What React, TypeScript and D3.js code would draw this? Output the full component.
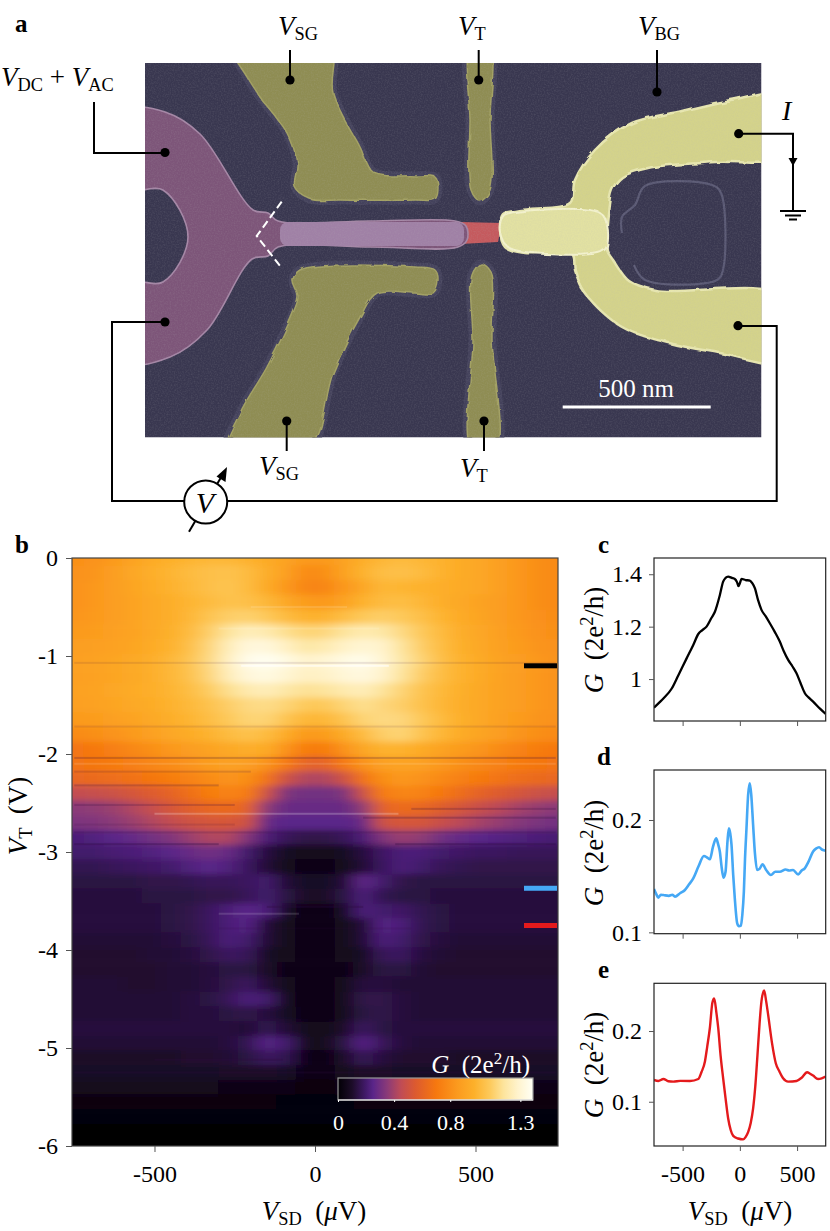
import React, { useEffect, useRef } from 'react';
import * as d3 from 'd3';

// Conductance map, G x 100 (2e2/h), rows are VT, columns are VSD
const vsdCols = [-750, -690, -630, -570, -510, -450, -390, -330, -270, -210, -150, -90, -30, 30, 90, 150, 210, 270, 330, 390, 450, 510, 570, 630, 690, 750];
const vtRows = [0, -0.15, -0.3, -0.45, -0.6, -0.75, -0.9, -1.05, -1.2, -1.35, -1.5, -1.65, -1.8, -1.95, -2.1, -2.25, -2.4, -2.55, -2.7, -2.85, -3, -3.15, -3.3, -3.45, -3.6, -3.75, -3.9, -4.05, -4.2, -4.35, -4.5, -4.65, -4.8, -4.95, -5.1, -5.25, -5.4, -5.55, -5.7, -5.85, -6];
const gMap = [
  [80, 82, 85, 90, 94, 97, 99, 100, 100, 98, 94, 90, 85, 85, 90, 96, 100, 102, 100, 98, 95, 92, 88, 84, 80, 78],
  [81, 83, 87, 92, 96, 99, 102, 104, 105, 102, 96, 88, 78, 80, 90, 98, 103, 104, 102, 98, 95, 92, 88, 84, 80, 78],
  [82, 84, 87, 91, 95, 98, 101, 104, 106, 102, 94, 84, 76, 76, 84, 92, 100, 99, 98, 96, 94, 92, 88, 84, 80, 78],
  [82, 84, 87, 90, 93, 96, 99, 102, 105, 104, 100, 92, 86, 84, 90, 98, 102, 103, 100, 96, 93, 90, 87, 84, 80, 78],
  [83, 85, 87, 90, 93, 96, 100, 106, 110, 111, 108, 102, 98, 98, 103, 108, 110, 108, 104, 99, 94, 91, 87, 84, 81, 79],
  [85, 86, 88, 90, 93, 97, 102, 110, 118, 124, 122, 116, 112, 113, 118, 122, 120, 114, 108, 102, 96, 92, 88, 85, 82, 80],
  [87, 88, 89, 91, 94, 98, 104, 113, 124, 132, 132, 126, 120, 122, 127, 130, 128, 118, 110, 103, 97, 93, 89, 86, 83, 81],
  [88, 89, 91, 93, 96, 100, 106, 114, 126, 136, 138, 134, 128, 130, 134, 136, 130, 120, 112, 104, 98, 94, 90, 87, 84, 82],
  [88, 89, 91, 93, 96, 100, 105, 113, 124, 132, 134, 130, 126, 127, 131, 133, 128, 118, 110, 103, 98, 94, 90, 87, 84, 82],
  [89, 90, 92, 94, 96, 99, 103, 109, 116, 122, 124, 120, 117, 118, 122, 124, 118, 112, 106, 101, 97, 93, 90, 87, 84, 82],
  [88, 89, 91, 93, 95, 98, 101, 105, 110, 114, 115, 112, 108, 108, 112, 116, 113, 110, 105, 100, 96, 93, 90, 87, 84, 82],
  [85, 86, 88, 90, 93, 96, 99, 103, 108, 112, 112, 106, 100, 100, 106, 112, 114, 113, 108, 102, 97, 93, 89, 86, 83, 81],
  [78, 80, 82, 85, 88, 92, 95, 98, 102, 105, 102, 94, 85, 86, 94, 102, 110, 112, 106, 100, 95, 91, 87, 83, 80, 78],
  [68, 70, 73, 77, 80, 84, 87, 90, 93, 96, 94, 82, 72, 72, 82, 92, 98, 98, 94, 90, 86, 83, 79, 75, 72, 70],
  [68, 69, 71, 73, 76, 79, 82, 86, 88, 87, 82, 70, 60, 60, 70, 82, 88, 90, 88, 84, 80, 77, 74, 71, 69, 68],
  [62, 63, 65, 67, 69, 72, 75, 79, 82, 80, 68, 50, 42, 42, 50, 68, 80, 84, 82, 78, 74, 71, 68, 65, 63, 62],
  [46, 47, 49, 52, 56, 60, 66, 72, 75, 72, 50, 32, 30, 30, 32, 50, 72, 76, 75, 70, 65, 60, 56, 52, 49, 47],
  [35, 36, 38, 42, 47, 53, 58, 62, 63, 60, 35, 28, 28, 28, 28, 36, 60, 64, 62, 57, 52, 48, 44, 40, 37, 35],
  [32, 33, 35, 38, 42, 46, 50, 52, 53, 50, 27, 25, 25, 25, 25, 28, 50, 53, 52, 48, 44, 40, 37, 34, 32, 30],
  [22, 23, 25, 27, 30, 33, 38, 42, 42, 33, 22, 17, 15, 15, 17, 22, 33, 38, 36, 30, 27, 25, 24, 23, 22, 21],
  [20, 20, 21, 22, 23, 25, 28, 30, 28, 20, 13, 8, 6, 6, 8, 13, 19, 22, 22, 20, 19, 18, 18, 17, 17, 17],
  [16, 16, 17, 18, 19, 20, 23, 25, 23, 18, 12, 7, 5, 5, 7, 12, 18, 22, 20, 17, 16, 15, 15, 15, 15, 15],
  [14, 14, 14, 14, 15, 15, 16, 17, 17, 18, 20, 12, 9, 9, 12, 26, 20, 15, 14, 14, 14, 14, 14, 14, 14, 14],
  [13, 13, 13, 13, 14, 14, 14, 15, 15, 17, 20, 14, 10, 10, 14, 22, 16, 14, 14, 13, 13, 13, 13, 13, 13, 13],
  [13, 13, 13, 13, 13, 14, 15, 18, 22, 25, 22, 8, 5, 5, 8, 22, 20, 19, 16, 14, 13, 13, 13, 13, 13, 13],
  [13, 13, 13, 13, 13, 14, 15, 18, 22, 24, 12, 6, 5, 5, 6, 12, 24, 22, 16, 14, 13, 13, 13, 13, 13, 13],
  [12, 12, 12, 12, 12, 13, 14, 17, 22, 20, 12, 6, 5, 5, 6, 12, 22, 20, 15, 13, 12, 12, 12, 12, 12, 12],
  [11, 11, 11, 11, 12, 12, 13, 15, 18, 17, 8, 6, 5, 5, 6, 8, 17, 18, 13, 12, 11, 11, 11, 11, 11, 11],
  [11, 11, 11, 11, 11, 12, 12, 13, 14, 14, 10, 5, 4, 4, 5, 10, 14, 14, 12, 11, 11, 11, 11, 11, 11, 11],
  [12, 12, 12, 11, 11, 12, 12, 13, 15, 18, 12, 6, 5, 5, 6, 13, 13, 12, 12, 12, 12, 12, 12, 12, 12, 12],
  [12, 12, 12, 12, 12, 12, 13, 14, 17, 22, 20, 6, 5, 5, 6, 15, 15, 13, 12, 12, 12, 12, 12, 12, 12, 12],
  [12, 12, 12, 12, 12, 12, 13, 13, 14, 15, 13, 8, 5, 5, 7, 14, 15, 13, 12, 12, 12, 12, 12, 12, 12, 12],
  [13, 13, 13, 13, 13, 13, 13, 13, 13, 12, 16, 12, 6, 6, 10, 18, 14, 13, 13, 13, 13, 13, 13, 13, 13, 13],
  [12, 12, 12, 12, 12, 12, 12, 12, 13, 16, 24, 20, 6, 6, 14, 24, 17, 13, 12, 12, 12, 12, 12, 12, 12, 12],
  [10, 10, 10, 10, 10, 10, 11, 11, 12, 14, 18, 16, 5, 5, 10, 17, 13, 11, 11, 11, 10, 10, 10, 10, 10, 10],
  [9, 9, 9, 9, 9, 9, 9, 9, 10, 10, 10, 9, 4, 4, 7, 10, 10, 9, 9, 9, 9, 9, 9, 9, 9, 9],
  [7, 7, 7, 6, 6, 6, 6, 6, 5, 5, 5, 4, 2, 2, 4, 5, 5, 5, 5, 5, 5, 5, 5, 5, 5, 5],
  [3, 3, 3, 2, 2, 2, 2, 2, 2, 2, 2, 1, 1, 1, 1, 2, 2, 2, 2, 2, 2, 2, 2, 2, 2, 2],
  [1, 1, 1, 1, 1, 1, 1, 1, 1, 1, 1, 1, 1, 1, 1, 1, 1, 1, 1, 1, 1, 1, 1, 1, 1, 1],
  [0, 0, 0, 0, 0, 0, 0, 0, 0, 0, 0, 0, 0, 0, 0, 0, 0, 0, 0, 0, 0, 0, 0, 0, 0, 0],
  [0, 0, 0, 0, 0, 0, 0, 0, 0, 0, 0, 0, 0, 0, 0, 0, 0, 0, 0, 0, 0, 0, 0, 0, 0, 0],
];

// thin scan-line streaks on the map: VT, VSD from, VSD to, strength (+ light, - dark)
const streaks: [number, number, number, number][] = [
  [-1.1, -230, 230, 0.6], [-1.07, -750, 750, -0.1], [-0.72, -300, 200, 0.12], [-0.5, -200, 100, 0.12],
  [-1.72, -750, 750, -0.1], [-2.04, -750, 750, -0.22], [-2.1, -750, 750, 0.12], [-2.18, -750, -200, -0.15],
  [-2.32, -750, -300, -0.2], [-2.52, -750, -250, -0.2], [-2.56, 300, 750, -0.22], [-2.61, -500, 260, 0.22],
  [-2.65, 150, 750, -0.25], [-2.72, -750, -250, -0.12], [-2.8, -750, 750, -0.18], [-2.92, -750, -300, -0.3],
  [-2.92, 250, 750, -0.3], [-3.56, -150, 150, -0.3], [-3.63, -300, -50, 0.14], [-3.78, -300, 300, -0.12],
  [-5.12, -500, -100, -0.3], [-5.25, -750, 750, -0.25],
];

// colour map stops
const gStops = [0, 0.1, 0.2, 0.25, 0.35, 0.45, 0.55, 0.7, 0.85, 0.97, 1.08, 1.18, 1.28, 1.39];
const gColors = ['#020005', '#1c0c28', '#431a6c', '#5a2589', '#8a3a78', '#c04c55', '#dc5a30', '#f6780f', '#fb9a1e', '#fdb02a', '#fdc95a', '#fde49c', '#fff3cc', '#fffff5'];
const barTicks = [0, 0.4, 0.8, 1.3];

// cuts marked on the map
const cutVT = [-1.1, -3.37, -3.75];
const cutColors = ['#000000', '#45a8f5', '#e41a1c'];

// line cuts, [VSD, G]
const cutC: [number, number][] = [
  [-750, 0.891], [-700, 0.912], [-668, 0.926], [-595, 0.964], [-537, 1.015], [-465, 1.079], [-407, 1.13], [-363, 1.172], [-330, 1.186], [-291, 1.2], [-250, 1.232], [-218, 1.257], [-175, 1.32], [-146, 1.372], [-125, 1.386], [-102, 1.391], [-70, 1.386], [-44, 1.382], [-25, 1.37], [-12, 1.355], [0, 1.366], [15, 1.382], [50, 1.378], [87, 1.376], [110, 1.365], [131, 1.347], [160, 1.3], [189, 1.264], [225, 1.24], [262, 1.213], [305, 1.18], [349, 1.143], [385, 1.105], [422, 1.073], [460, 1.048], [495, 1.022], [530, 0.985], [568, 0.946], [600, 0.93], [640, 0.914], [700, 0.887], [750, 0.867],
];
const cutD: [number, number][] = [
  [-750, 0.1386], [-730, 0.134], [-712, 0.1309], [-690, 0.1335], [-668, 0.1332], [-620, 0.1325], [-590, 0.1335], [-567, 0.1317], [-520, 0.135], [-480, 0.1377], [-445, 0.1425], [-407, 0.148], [-360, 0.159], [-314, 0.168], [-285, 0.1665], [-262, 0.165], [-235, 0.176], [-207, 0.1837], [-190, 0.1785], [-175, 0.172], [-158, 0.157], [-143, 0.1487], [-125, 0.154], [-108, 0.181], [-96, 0.1926], [-84, 0.188], [-73, 0.178], [-58, 0.151], [-44, 0.13], [-23, 0.108], [-8, 0.1055], [9, 0.106], [22, 0.116], [35, 0.136], [45, 0.165], [58, 0.1926], [72, 0.222], [87, 0.2327], [100, 0.222], [116, 0.1955], [132, 0.17], [151, 0.1555], [172, 0.1565], [198, 0.1605], [230, 0.1555], [271, 0.151], [310, 0.154], [349, 0.154], [400, 0.156], [430, 0.155], [465, 0.1555], [509, 0.1516], [540, 0.155], [567, 0.157], [600, 0.163], [640, 0.172], [665, 0.1745], [692, 0.1757], [720, 0.1735], [750, 0.1727],
];
const cutE: [number, number][] = [
  [-750, 0.1308], [-712, 0.1294], [-668, 0.1322], [-625, 0.129], [-581, 0.1285], [-520, 0.1295], [-436, 0.1294], [-363, 0.1322], [-335, 0.142], [-305, 0.157], [-285, 0.178], [-262, 0.2043], [-240, 0.24], [-224, 0.246], [-205, 0.226], [-189, 0.2043], [-168, 0.165], [-146, 0.1332], [-125, 0.105], [-102, 0.0763], [-80, 0.06], [-58, 0.0517], [-15, 0.048], [29, 0.0468], [50, 0.05], [73, 0.0573], [95, 0.07], [116, 0.0905], [135, 0.122], [154, 0.1663], [172, 0.21], [189, 0.2422], [212, 0.2573], [230, 0.242], [247, 0.2232], [280, 0.184], [314, 0.1545], [345, 0.143], [378, 0.1332], [422, 0.1285], [495, 0.1294], [540, 0.134], [588, 0.1417], [610, 0.14], [640, 0.137], [683, 0.1322], [715, 0.133], [750, 0.1355],
];
const panelInfo = [
  { name: 'c', data: cutC, color: '#000000', domain: [0.84, 1.462], ticks: [1, 1.2, 1.4], labels: ['1', '1.2', '1.4'], top: 558, bottom: 721, width: 2.3, labelY: 640 },
  { name: 'd', data: cutD, color: '#45a8f5', domain: [0.0988, 0.2445], ticks: [0.1, 0.2], labels: ['0.1', '0.2'], top: 770, bottom: 933.7, width: 2.6, labelY: 853 },
  { name: 'e', data: cutE, color: '#e41a1c', domain: [0.0374, 0.2675], ticks: [0.1, 0.2], labels: ['0.1', '0.2'], top: 983.3, bottom: 1146, width: 2.4, labelY: 1065 },
];

// false colour SEM outlines (page pixels)
const purpleLead = [[125, 110], [165, 112], [200, 134], [253, 210], [268, 213], [278, 221], [370, 221], [455, 221], [466, 226], [467, 240], [458, 247], [370, 247], [278, 247], [268, 256], [252, 259], [207, 330], [170, 357], [125, 362], [125, 283], [163, 282], [188, 237], [163, 190], [125, 189]];
const redPiece = [[460, 222], [502, 223], [498, 242], [460, 244]];
const sideGateTop = [[232, 45], [330, 45], [333, 93], [360, 147], [373, 172], [415, 176], [435, 177], [438, 188], [435, 199], [415, 200], [340, 200], [310, 199], [295, 187], [297, 163], [287, 133], [260, 97], [247, 77]];
const sideGateBottom = [[293, 280], [300, 270], [415, 267], [435, 270], [438, 280], [433, 293], [415, 293], [377, 293], [360, 317], [333, 373], [308, 450], [228, 450], [240, 413], [267, 367], [293, 313], [298, 297]];
const topGateTop = [[470, 45], [489, 45], [490, 120], [490, 190], [480, 201], [471, 190], [470, 120]];
const topGateBottom = [[472, 275], [481, 264], [491, 272], [492, 340], [496, 450], [472, 450], [473, 340]];
const contact = [[785, 95], [731, 100], [682, 111], [632, 123], [595, 150], [575, 180], [570, 203], [530, 209], [515, 211], [503, 214], [500, 230], [505, 247], [525, 253], [572, 254], [575, 270], [585, 293], [622, 327], [665, 342], [715, 352], [785, 360], [785, 297], [655, 290], [628, 280], [613, 260], [607, 250], [608, 213], [612, 190], [622, 177], [648, 168], [715, 162], [785, 156]];
const contactBlob = [[503, 216], [515, 212], [600, 213], [607, 225], [606, 248], [598, 253], [525, 252], [508, 247], [500, 232]];
const loopTrace = [[622, 233], [622, 217], [635, 205], [645, 186], [712, 185], [721, 193], [723, 270], [717, 280], [645, 280], [634, 265]];

const serif = "'Liberation Serif', 'DejaVu Serif', serif";

type Part = [string, 'i' | 'r' | 'sub' | 'sup' | 'b'];

// math style text with sub and superscripts
function mathText(parent: any, x: number, y: number, parts: Part[], size: number, anchor = 'start', fill = '#000') {
  const t = parent.append('text').attr('x', x).attr('y', y).attr('font-family', serif)
    .attr('font-size', size).attr('text-anchor', anchor).attr('fill', fill);
  let shift = 0;
  parts.forEach(([s, k]) => {
    const want = k === 'sub' ? size * 0.2 : k === 'sup' ? -size * 0.36 : 0;
    t.append('tspan')
      .attr('dy', want - shift)
      .attr('font-size', k === 'sub' || k === 'sup' ? size * 0.68 : size)
      .attr('font-style', k === 'i' ? 'italic' : 'normal')
      .attr('font-weight', k === 'b' ? 'bold' : 'normal')
      .attr('xml:space', 'preserve')
      .text(s);
    shift = want;
  });
  return t;
}

const gLabel: Part[] = [['G', 'i'], ['\u00a0\u00a0(2e', 'r'], ['2', 'sup'], ['/h)', 'r']];
const vsdLabel: Part[] = [['V', 'i'], ['SD', 'sub'], ['\u00a0\u00a0(', 'r'], ['\u03bc', 'i'], ['V)', 'r']];

const App: React.FC = () => {
  const svgRef = useRef<SVGSVGElement>(null);

  useEffect(() => {
    if (!svgRef.current) return;
    const svg = d3.select(svgRef.current);
    svg.selectAll('*').remove();
    const defs = svg.append('defs');

    // ---- panel a, SEM picture ----
    const img = { x: 145, y: 63, w: 616.5, h: 374.5 };
    defs.append('clipPath').attr('id', 'semClip').append('rect')
      .attr('x', img.x).attr('y', img.y).attr('width', img.w).attr('height', img.h);

    const grain = defs.append('filter').attr('id', 'grain').attr('x', 0).attr('y', 0).attr('width', 1).attr('height', 1);
    grain.append('feTurbulence').attr('type', 'fractalNoise').attr('baseFrequency', 0.7).attr('numOctaves', 2).attr('seed', 3);
    grain.append('feColorMatrix').attr('values', '0 0 0 0 0.5  0 0 0 0 0.5  0 0 0 0 0.5  1.2 0 0 0 -0.45');

    const lumps = defs.append('filter').attr('id', 'lumps').attr('x', '-5%').attr('y', '-5%').attr('width', '110%').attr('height', '110%');
    lumps.append('feTurbulence').attr('type', 'fractalNoise').attr('baseFrequency', 0.07).attr('numOctaves', 2).attr('seed', 8).attr('result', 'n');
    lumps.append('feDisplacementMap').attr('in', 'SourceGraphic').attr('in2', 'n').attr('scale', 5);

    const soft = defs.append('filter').attr('id', 'soft');
    soft.append('feGaussianBlur').attr('stdDeviation', 0.7);

    const closed = d3.line().curve(d3.curveCatmullRomClosed.alpha(0.5));
    const sem = svg.append('g').attr('clip-path', 'url(#semClip)');
    sem.append('rect').attr('x', img.x).attr('y', img.y).attr('width', img.w).attr('height', img.h).attr('fill', '#393750');

    sem.append('path').attr('d', d3.line().curve(d3.curveCatmullRom.alpha(0.5))(loopTrace as any))
      .attr('fill', 'none').attr('stroke', '#5a5974').attr('stroke-width', 2.2);

    [sideGateTop, sideGateBottom, topGateTop, topGateBottom].forEach(pts => {
      sem.append('path').attr('d', closed(pts as any)).attr('fill', 'none').attr('stroke', '#44425c').attr('stroke-width', 9);
    });
    const gates = sem.append('g').attr('filter', 'url(#lumps)');
    [sideGateTop, sideGateBottom, topGateTop, topGateBottom].forEach(pts => {
      gates.append('path').attr('d', closed(pts as any)).attr('fill', '#8f8d52').attr('stroke', '#a3a163').attr('stroke-width', 1.5);
    });

    sem.append('path').attr('d', d3.line().curve(d3.curveLinearClosed)(redPiece as any)).attr('fill', '#c55a5e');
    sem.append('path').attr('d', closed(purpleLead as any)).attr('fill', '#7d5479').attr('stroke', '#a587a6').attr('stroke-width', 1.6).attr('filter', 'url(#soft)');
    // wire part is lighter than the Y shaped pad
    sem.append('rect').attr('x', 280).attr('y', 222).attr('width', 184).attr('height', 24).attr('rx', 8).attr('fill', '#a081a6').attr('filter', 'url(#soft)');

    const cg = sem.append('g').attr('filter', 'url(#lumps)');
    cg.append('path').attr('d', closed(contact as any)).attr('fill', '#d4d38b').attr('stroke', '#e8e7b0').attr('stroke-width', 2.5);
    cg.append('path').attr('d', closed(contactBlob as any)).attr('fill', '#e2e1a2').attr('stroke', '#f3f2cd').attr('stroke-width', 2);
    sem.append('rect').attr('x', img.x).attr('y', img.y).attr('width', img.w).attr('height', img.h).attr('filter', 'url(#grain)').attr('opacity', 0.22);

    // dashed chevron
    svg.append('path').attr('d', d3.line()([[281.7, 201.7], [256.7, 236], [281.7, 268]] as any))
      .attr('fill', 'none').attr('stroke', '#fff').attr('stroke-width', 2).attr('stroke-dasharray', '8 4');

    // scale bar
    svg.append('line').attr('x1', 562.7).attr('x2', 710.7).attr('y1', 407).attr('y2', 407).attr('stroke', '#fff').attr('stroke-width', 2.8);
    mathText(svg, 636, 397, [['500\u00a0nm', 'r']], 25, 'middle', '#fff');

    // wiring
    const wires = svg.append('g').attr('fill', 'none').attr('stroke', '#000').attr('stroke-width', 2);
    const wirePaths = [
      [[94, 102], [94, 153], [165, 153]],
      [[290, 50], [290, 80]],
      [[478.7, 50], [478.7, 80]],
      [[657, 50], [657, 92]],
      [[738.7, 133.7], [793, 133.7], [793, 211]],
      [[165, 322], [112, 322], [112, 501], [776.7, 501], [776.7, 326], [738, 326]],
      [[286.7, 421], [286.7, 451]],
      [[484, 421], [484, 451]],
      [[780, 211], [806, 211]],
      [[785, 215.5], [801, 215.5]],
      [[789, 219.5], [797, 219.5]],
    ];
    wirePaths.forEach(p => wires.append('path').attr('d', d3.line()(p as any)));
    const dots = [[165, 152.5], [290, 80], [478.7, 80], [657, 92], [738.7, 133.7], [165, 322], [738, 325.7], [286.7, 421], [484, 421]];
    svg.append('g').selectAll('circle').data(dots).enter().append('circle')
      .attr('cx', d => d[0]).attr('cy', d => d[1]).attr('r', 4.6).attr('fill', '#000');
    svg.append('path').attr('d', d3.line().curve(d3.curveLinearClosed)([[788.5, 158], [797.5, 158], [793, 166]] as any)).attr('fill', '#000');

    // voltmeter with its arrow
    svg.append('line').attr('x1', 189).attr('y1', 531.7).attr('x2', 223).attr('y2', 474).attr('stroke', '#000').attr('stroke-width', 2);
    svg.append('path').attr('d', d3.line().curve(d3.curveLinearClosed)([[227, 467], [225.5, 482], [216.5, 476.5]] as any)).attr('fill', '#000');
    svg.append('circle').attr('cx', 205.7).attr('cy', 502).attr('r', 21.5).attr('fill', '#fff').attr('stroke', '#000').attr('stroke-width', 2);
    mathText(svg, 205, 513, [['V', 'i']], 30, 'middle');

    // panel a labels
    const vLabels: [number, number, string, string][] = [
      [278, 35, 'V', 'SG'], [458, 35, 'V', 'T'], [638, 35, 'V', 'BG'], [259, 475, 'V', 'SG'], [460, 477, 'V', 'T'],
    ];
    vLabels.forEach(([x, y, a, b]) => mathText(svg, x, y, [[a, 'i'], [b, 'sub']], 27));
    mathText(svg, 1, 86, [['V', 'i'], ['DC', 'sub'], ['\u00a0+\u00a0', 'r'], ['V', 'i'], ['AC', 'sub']], 27);
    mathText(svg, 782, 120, [['I', 'i']], 28);

    // bold panel letters
    const letters: [string, number, number][] = [['a', 15, 32], ['b', 15, 553], ['c', 598, 552.6], ['d', 597, 765], ['e', 598, 977.6]];
    letters.forEach(([s, x, y]) => mathText(svg, x, y, [[s, 'b']], 25));

    // ---- panel b, map ----
    const mb = { left: 72, right: 558, top: 558, bottom: 1146 };
    const x = d3.scaleLinear().domain([-757, 757]).range([mb.left, mb.right]);
    const y = d3.scaleLinear().domain([0, -6]).range([mb.top, mb.bottom]);
    const color = d3.scaleLinear<string>().domain(gStops).range(gColors).interpolate(d3.interpolateRgb).clamp(true);

    defs.append('clipPath').attr('id', 'mapClip').append('rect')
      .attr('x', mb.left).attr('y', mb.top).attr('width', mb.right - mb.left).attr('height', mb.bottom - mb.top);
    const blur = defs.append('filter').attr('id', 'mapBlur').attr('filterUnits', 'userSpaceOnUse')
      .attr('x', mb.left - 60).attr('y', mb.top - 60).attr('width', mb.right - mb.left + 120).attr('height', mb.bottom - mb.top + 120);
    blur.append('feGaussianBlur').attr('stdDeviation', '9 3');

    const dv = 60, dt = 0.15;
    const cells = gMap.flatMap((row, i) => row.map((g, j) => ({ i, j, g: g / 100 })));
    const map = svg.append('g').attr('clip-path', 'url(#mapClip)');
    const cellG = map.append('g').attr('filter', 'url(#mapBlur)');
    cellG.selectAll('rect').data(cells).enter().append('rect')
      .attr('x', d => x(vsdCols[d.j] - dv / 2) - (d.j === 0 ? 50 : 0))
      .attr('width', d => x(dv) - x(0) + 0.6 + (d.j === 0 || d.j === vsdCols.length - 1 ? 50 : 0))
      .attr('y', d => y(vtRows[d.i] + dt / 2) - (d.i === 0 ? 50 : 0))
      .attr('height', d => y(-dt) - y(0) + 0.6 + (d.i === 0 || d.i === vtRows.length - 1 ? 50 : 0))
      .attr('fill', d => color(d.g));

    map.append('g').selectAll('rect').data(streaks).enter().append('rect')
      .attr('x', d => x(d[1])).attr('width', d => x(d[2]) - x(d[1]))
      .attr('y', d => y(d[0]) - 1).attr('height', 2)
      .attr('fill', d => (d[3] > 0 ? '#fff' : '#300a40'))
      .attr('opacity', d => Math.abs(d[3]));

    // cut markers
    svg.append('g').selectAll('rect').data(cutVT).enter().append('rect')
      .attr('x', 524).attr('width', 33).attr('y', d => y(d) - 2.5).attr('height', 5)
      .attr('fill', (d, i) => cutColors[i]);

    svg.append('rect').attr('x', mb.left).attr('y', mb.top).attr('width', mb.right - mb.left).attr('height', mb.bottom - mb.top)
      .attr('fill', 'none').attr('stroke', '#444').attr('stroke-width', 1.2);

    const styleAxis = (g: any) => {
      g.select('.domain').remove();
      g.selectAll('line').attr('stroke', '#555').attr('stroke-width', 1);
      g.selectAll('text').attr('font-family', serif).attr('font-size', 24).attr('fill', '#000');
    };
    svg.append('g').attr('transform', `translate(0,${mb.bottom})`)
      .call(d3.axisBottom(x).tickValues([-500, 0, 500]).tickSize(6).tickPadding(13).tickFormat(d => `${d}`))
      .call(styleAxis);
    svg.append('g').attr('transform', `translate(${mb.left},0)`)
      .call(d3.axisLeft(y).tickValues([0, -1, -2, -3, -4, -5, -6]).tickSize(6).tickPadding(8).tickFormat(d => `${d}`))
      .call(styleAxis);

    mathText(svg, 314, 1220, vsdLabel, 27, 'middle');
    mathText(svg, 0, 0, [['V', 'i'], ['T', 'sub'], ['\u00a0\u00a0(V)', 'r']], 27, 'middle')
      .attr('transform', 'translate(27,816) rotate(-90)');

    // colour bar inside the map
    const bar = { left: 338, right: 533, top: 1078, bottom: 1100 };
    const barX = d3.scaleLinear().domain([0, 1.39]).range([bar.left, bar.right]);
    const grad = defs.append('linearGradient').attr('id', 'barGrad');
    gStops.forEach((s, i) => grad.append('stop').attr('offset', s / 1.39).attr('stop-color', gColors[i]));
    svg.append('rect').attr('x', bar.left).attr('y', bar.top).attr('width', bar.right - bar.left).attr('height', bar.bottom - bar.top)
      .attr('fill', 'url(#barGrad)').attr('stroke', '#999').attr('stroke-width', 1.2);
    svg.append('line').attr('x1', bar.left).attr('x2', bar.right).attr('y1', bar.bottom).attr('y2', bar.bottom).attr('stroke', '#fff').attr('stroke-width', 1.2);
    svg.append('g').attr('transform', `translate(0,${bar.bottom})`)
      .call(d3.axisBottom(barX).tickValues(barTicks).tickSize(2).tickPadding(12).tickFormat(d => `${d}`))
      .call((g: any) => {
        g.select('.domain').remove();
        g.selectAll('line').attr('stroke', '#fff');
        g.selectAll('text').attr('font-family', serif).attr('font-size', 22).attr('fill', '#fff');
      });
    mathText(svg, 530, 1073, gLabel, 25, 'end', '#fff');

    // ---- panels c, d, e, line cuts ----
    const xCut = d3.scaleLinear().domain([-750, 750]).range([654, 825.7]);
    panelInfo.forEach(p => {
      const yCut = d3.scaleLinear().domain(p.domain).range([p.bottom, p.top]);
      const line = d3.line<[number, number]>().x(d => xCut(d[0])).y(d => yCut(d[1])).curve(d3.curveMonotoneX);
      const clipId = `clip-${p.name}`;
      defs.append('clipPath').attr('id', clipId).append('rect')
        .attr('x', 654).attr('y', p.top).attr('width', 171.7).attr('height', p.bottom - p.top);
      svg.append('path').datum(p.data).attr('clip-path', `url(#${clipId})`)
        .attr('fill', 'none').attr('stroke', p.color).attr('stroke-width', p.width).attr('stroke-linejoin', 'round')
        .attr('d', line);
      svg.append('rect').attr('x', 654).attr('y', p.top).attr('width', 171.7).attr('height', p.bottom - p.top)
        .attr('fill', 'none').attr('stroke', '#222').attr('stroke-width', 1.2);
      const isLast = p.name === 'e';
      svg.append('g').attr('transform', `translate(0,${p.bottom})`)
        .call(d3.axisBottom(xCut).tickValues([-500, 0, 500]).tickSize(5).tickPadding(14).tickFormat(d => (isLast ? `${d}` : '')))
        .call(styleAxis);
      svg.append('g').attr('transform', 'translate(654,0)')
        .call(d3.axisLeft(yCut).tickValues(p.ticks).tickSize(5).tickPadding(7).tickFormat((d, i) => p.labels[i]))
        .call(styleAxis);
      mathText(svg, 0, 0, gLabel, 27, 'middle').attr('transform', `translate(603,${p.labelY}) rotate(-90)`);
    });
    mathText(svg, 740, 1220, vsdLabel, 27, 'middle');
  }, []);

  return <svg ref={svgRef} width={830} height={1231} style={{ position: 'absolute', left: 0, top: 0, display: 'block', background: '#fff' }} />;
};

export default App;
